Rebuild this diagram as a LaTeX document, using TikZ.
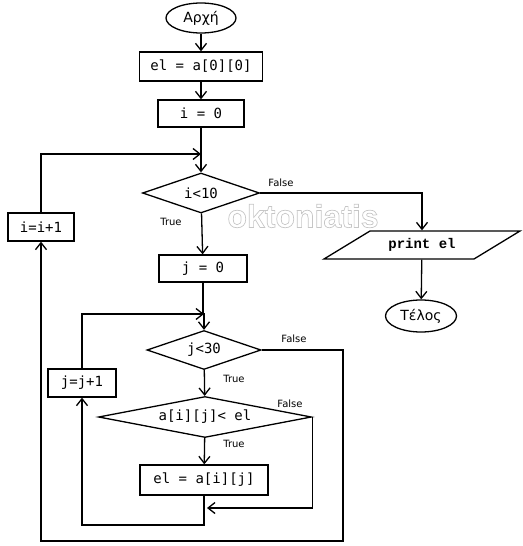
\documentclass[tikz,border=0pt]{standalone}
\usepackage{fontspec}
\setmainfont{DejaVu Sans}
\newfontfamily\codefont{DejaVu Sans Mono}
\newfontfamily\courfont{Liberation Mono}
\newfontfamily\wmfont{Liberation Sans}
\usetikzlibrary{shapes.geometric,arrows.meta}
\begin{document}
\begin{tikzpicture}[x=1pt,y=-1pt,line width=1.3pt,
  box/.style={draw,rectangle,inner sep=0pt,font=\codefont\fontsize{14}{16}\selectfont},
  term/.style={draw,ellipse,inner sep=0pt,font=\fontsize{14}{16}\selectfont},
  dec/.style={draw,diamond,inner sep=0pt,font=\codefont\fontsize{14}{16}\selectfont},
  arr/.style={-{Straight Barb[length=7pt,width=11pt]}},
  lbl/.style={inner sep=0pt,font=\fontsize{10}{12}\selectfont}]
\useasboundingbox (0,0) rectangle (522,546);
% watermark (outlined text)
\node[text=gray!45,font=\wmfont\bfseries\fontsize{32}{34}\selectfont] (wm) at (303,216)
  {\special{pdf:literal direct 0.7 w 1 Tr}oktoniatis\special{pdf:literal direct 0 Tr}};
% nodes
\node[term,minimum width=70pt,minimum height=30pt] (start) at (201,18) {Αρχή};
\node[box,minimum width=123pt,minimum height=29pt] (el0) at (201,66.5) {el = a[0][0]};
\node[box,minimum width=86pt,minimum height=27pt] (i0) at (201,113.5) {i = 0};
\coordinate (m1) at (201,154);
\node[dec,minimum width=117pt,minimum height=40pt,aspect=2.9] (d1) at (201,193) {i<10};
\node[box,minimum width=66pt,minimum height=28pt] (inc1) at (41,227) {i=i+1};
\node[box,minimum width=88pt,minimum height=27pt] (j0) at (203,268.5) {j = 0};
\coordinate (m2) at (204,314);
\node[dec,minimum width=114pt,minimum height=39pt,aspect=2.9] (d2) at (204,350) {j<30};
\node[box,minimum width=68pt,minimum height=28pt] (jinc) at (82,383) {j=j+1};
\node[dec,minimum width=213pt,minimum height=41pt,aspect=5.2] (d3) at (205,417) {a[i][j]< el};
\node[box,minimum width=128pt,minimum height=30pt] (elij) at (204,480) {el = a[i][j]};
\coordinate (m3) at (207,508);
\coordinate (c2) at (204,525);
\coordinate (c1) at (343,541);
% parallelogram
\draw (324,259) -- (370,231) -- (520,231) -- (474,259) -- cycle;
\node[inner sep=0pt,minimum width=100pt,minimum height=28pt,font=\courfont\bfseries\fontsize{14}{16}\selectfont] (pr) at (422,245) {print el};
\node[term,minimum width=71pt,minimum height=32pt] (end) at (421,316) {Τέλος};
% labels
\node[lbl] (f1) at (281,183) {False};
\node[lbl] (t1) at (171,222) {True};
\node[lbl] (f2) at (294,339) {False};
\node[lbl] (t2) at (234,379) {True};
\node[lbl] (f3) at (290,404) {False};
\node[lbl] (t3) at (234,444) {True};
% connectors
\draw[arr] (start) -- (el0);
\draw[arr] (el0) -- (i0);
\draw[arr] (i0) -- (m1) -- (d1);
\draw[arr] (inc1.north) |- (m1);
\draw[arr] (d1) -- (j0);
\draw[arr] (d1.east) -| (pr.north);
\draw[arr] (pr) -- (end);
\draw[arr] (j0.south) |- (m2) -- (d2);
\draw[arr] (jinc.north) |- (m2);
\draw[arr] (d2) -- (d3);
\draw[arr] (d3) -- (elij);
\draw[arr] (d2.east) -| (c1) -| (inc1.south);
\draw[arr] (d3.east) |- (m3);
\draw[arr] (elij.south) -- (c2) -| (jinc.south);
\end{tikzpicture}
\end{document}
